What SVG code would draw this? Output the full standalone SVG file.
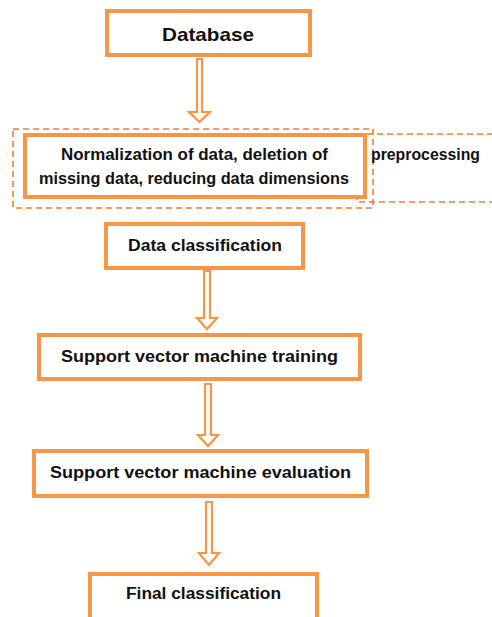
<svg xmlns="http://www.w3.org/2000/svg" width="492" height="617" viewBox="0 0 492 617">
<style>
.box{fill:#fff;stroke:#F79646;stroke-width:4}
.dash{fill:none;stroke:#ED7D31;stroke-width:1.6;stroke-dasharray:6,4}
.arr{fill:#fff;stroke:#F79646;stroke-width:2.2;stroke-linejoin:miter}
text{font-family:"Liberation Sans",Arial,sans-serif;font-weight:bold;font-size:16px;fill:#111;text-anchor:middle}
</style>
<rect width="492" height="617" fill="#fff"/>
<g id="preprocessing-group">
<rect class="dash" x="357" y="134" width="140" height="68"/>
<rect class="dash" x="13" y="129" width="360" height="79"/>
<text x="371" y="160" style="text-anchor:start" textLength="109" lengthAdjust="spacingAndGlyphs">preprocessing</text>
</g>
<g id="connectors">
<polygon class="arr" points="197,59 202,59 202,112 210,112 199.5,122 189,112 197,112"/>
<polygon class="arr" points="204,271 210,271 210,318 217,318 207,329 197,318 204,318"/>
<polygon class="arr" points="205,384 211,384 211,435 218,435 208,446 198,435 205,435"/>
<polygon class="arr" points="206,502 212,502 212,553 219,553 209,565 199,553 206,553"/>
</g>
<g id="database">
<rect class="box" x="107" y="11" width="203" height="44"/>
<text x="208" y="41" style="font-size:19px" textLength="92" lengthAdjust="spacingAndGlyphs">Database</text>
</g>
<g id="normalization">
<rect class="box" x="25" y="135" width="340" height="62"/>
<text x="194.5" y="160" textLength="267" lengthAdjust="spacingAndGlyphs">Normalization of data, deletion of</text>
<text x="194" y="184" textLength="310" lengthAdjust="spacingAndGlyphs">missing data, reducing data dimensions</text>
</g>
<g id="data-classification">
<rect class="box" x="106" y="224" width="197" height="44"/>
<text x="205" y="251" textLength="154" lengthAdjust="spacingAndGlyphs">Data classification</text>
</g>
<g id="svm-training">
<rect class="box" x="39" y="335" width="321" height="44"/>
<text x="199.5" y="362" textLength="277" lengthAdjust="spacingAndGlyphs">Support vector machine training</text>
</g>
<g id="svm-evaluation">
<rect class="box" x="34" y="451" width="333" height="45"/>
<text x="200.5" y="478" textLength="301" lengthAdjust="spacingAndGlyphs">Support vector machine evaluation</text>
</g>
<g id="final-classification">
<rect class="box" x="90" y="574" width="227" height="50"/>
<text x="203.5" y="599" textLength="155" lengthAdjust="spacingAndGlyphs">Final classification</text>
</g>
</svg>
